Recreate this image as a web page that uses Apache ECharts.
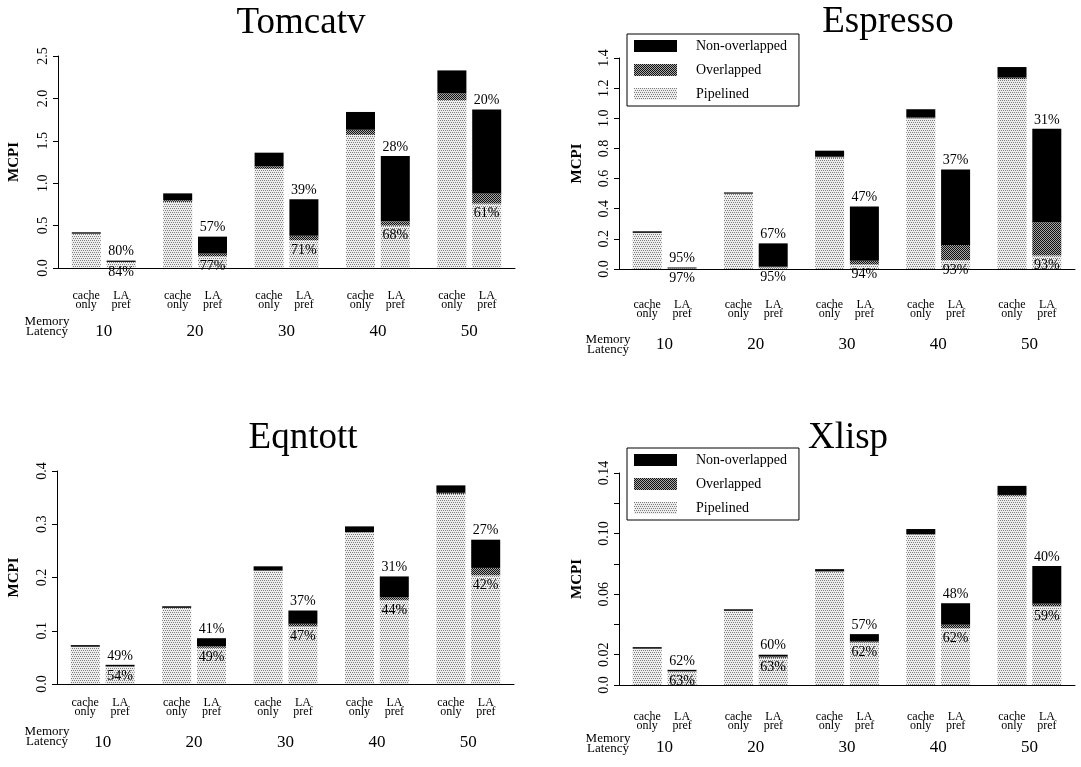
<!DOCTYPE html>
<html><head><meta charset="utf-8">
<script src="https://cdn.jsdelivr.net/npm/echarts@6/dist/echarts.min.js"></script>
<style>html,body{margin:0;padding:0;background:#fff}#c{width:1081px;height:767px}</style>
</head><body><div id="c"></div>
<script>
// ---------------- data ----------------
const latencies = ['10', '20', '30', '40', '50'];

const tomcatvCachePipe = [0.405, 0.78, 1.17, 1.57, 1.98];
const tomcatvCacheOver = [0.0, 0.02, 0.03, 0.06, 0.08];
const tomcatvCacheNon  = [0.016, 0.08, 0.16, 0.21, 0.27];
const tomcatvLAPipe    = [0.072, 0.14, 0.33, 0.50, 0.76];
const tomcatvLAOver    = [0.0, 0.03, 0.05, 0.05, 0.12];
const tomcatvLANon     = [0.015, 0.20, 0.43, 0.77, 0.99];
const tomcatvUpperPct  = ['80%', '57%', '39%', '28%', '20%'];
const tomcatvLowerPct  = ['84%', '77%', '71%', '68%', '61%'];

const espressoCachePipe = [0.24, 0.50, 0.74, 1.00, 1.26];
const espressoCacheOver = [0.0, 0.0, 0.005, 0.005, 0.01];
const espressoCacheNon  = [0.01, 0.008, 0.04, 0.055, 0.07];
const espressoLAPipe    = [0.004, 0.01, 0.03, 0.06, 0.09];
const espressoLAOver    = [0.0, 0.005, 0.025, 0.10, 0.22];
const espressoLANon     = [0.006, 0.155, 0.36, 0.50, 0.62];
const espressoUpperPct  = ['95%', '67%', '47%', '37%', '31%'];
const espressoLowerPct  = ['97%', '95%', '94%', '93%', '93%'];

const eqntottCachePipe = [0.070, 0.143, 0.213, 0.285, 0.357];
const eqntottCacheOver = [0.0, 0.0, 0.0, 0.0, 0.002];
const eqntottCacheNon  = [0.003, 0.003, 0.008, 0.011, 0.014];
const eqntottLAPipe    = [0.033, 0.068, 0.108, 0.158, 0.204];
const eqntottLAOver    = [0.0, 0.003, 0.005, 0.005, 0.014];
const eqntottLANon     = [0.003, 0.015, 0.025, 0.039, 0.053];
const eqntottUpperPct  = ['49%', '41%', '37%', '31%', '27%'];
const eqntottLowerPct  = ['54%', '49%', '47%', '44%', '42%'];

const xlispCachePipe = [0.024, 0.049, 0.075, 0.0995, 0.125];
const xlispCacheOver = [0.0, 0.0, 0.0, 0.0, 0.0005];
const xlispCacheNon  = [0.001, 0.001, 0.0015, 0.0035, 0.006];
const xlispLAPipe    = [0.009, 0.018, 0.028, 0.0375, 0.052];
const xlispLAOver    = [0.0, 0.0008, 0.0008, 0.0023, 0.0016];
const xlispLANon     = [0.001, 0.0012, 0.0048, 0.0142, 0.025];
const xlispUpperPct  = ['62%', '60%', '57%', '48%', '40%'];
const xlispLowerPct  = ['63%', '63%', '62%', '62%', '59%'];

const legendNames = ['Non-overlapped', 'Overlapped', 'Pipelined'];

// ---------------- styles ----------------
const SERIF = '"Liberation Serif", "Times New Roman", serif';

function makeTile(size, draw) {
  const c = document.createElement('canvas');
  c.width = size; c.height = size;
  draw(c.getContext('2d'));
  return c;
}
const pipeTile = makeTile(4, ctx => {
  ctx.fillStyle = '#eeeeee'; ctx.fillRect(0, 0, 4, 4);
  ctx.fillStyle = '#7c7c7c';
  [[0,0],[2,0],[1,2],[3,2]].forEach(p => ctx.fillRect(p[0], p[1], 1, 1));
});
const overTile = makeTile(2, ctx => {
  ctx.fillStyle = '#a8a8a8'; ctx.fillRect(0, 0, 2, 2);
  ctx.fillStyle = '#111111'; ctx.fillRect(0, 0, 1, 1); ctx.fillRect(1, 1, 1, 1);
});
const pipeFill = { image: pipeTile, repeat: 'repeat' };
const overFill = { image: overTile, repeat: 'repeat' };

const charts = [
  { title: 'Tomcatv', grid: { left: 58, top: 56, width: 457, height: 212 }, max: 2.5, interval: 0.5,
    fmt: v => v.toFixed(1), nameGap: 36, xMargin: 23, numLH: 45,
    titlePos: [301, 23], memPos: [47, 327],
    cp: tomcatvCachePipe, co: tomcatvCacheOver, cn: tomcatvCacheNon,
    lp: tomcatvLAPipe, lo: tomcatvLAOver, ln: tomcatvLANon, up: tomcatvUpperPct, lowp: tomcatvLowerPct },
  { title: 'Espresso', grid: { left: 619, top: 58, width: 456, height: 211 }, max: 1.4, interval: 0.2,
    fmt: v => v.toFixed(1), nameGap: 34, xMargin: 31, numLH: 54,
    titlePos: [888, 22], memPos: [608, 345],
    cp: espressoCachePipe, co: espressoCacheOver, cn: espressoCacheNon,
    lp: espressoLAPipe, lo: espressoLAOver, ln: espressoLANon, up: espressoUpperPct, lowp: espressoLowerPct },
  { title: 'Eqntott', grid: { left: 57, top: 471, width: 457, height: 213 }, max: 0.4, interval: 0.1,
    fmt: v => v.toFixed(1), nameGap: 35, xMargin: 14, numLH: 53,
    titlePos: [303, 438], memPos: [47, 737],
    cp: eqntottCachePipe, co: eqntottCacheOver, cn: eqntottCacheNon,
    lp: eqntottLAPipe, lo: eqntottLAOver, ln: eqntottLANon, up: eqntottUpperPct, lowp: eqntottLowerPct },
  { title: 'Xlisp', grid: { left: 619, top: 473, width: 456, height: 212 }, max: 0.14, interval: 0.02,
    fmt: v => { const r = Math.round(v * 100); if (r === 0) return '0.0'; return (r % 4 === 2) ? v.toFixed(2) : ''; },
    nameGap: 34, xMargin: 27, numLH: 36,
    titlePos: [848, 438], memPos: [608, 744],
    cp: xlispCachePipe, co: xlispCacheOver, cn: xlispCacheNon,
    lp: xlispLAPipe, lo: xlispLAOver, ln: xlispLANon, up: xlispUpperPct, lowp: xlispLowerPct }
];

const grids = [], xAxes = [], yAxes = [], series = [], graphics = [];
const pctFont = { fontFamily: SERIF, fontSize: 14, color: '#000' };

charts.forEach((c, i) => {
  grids.push(Object.assign({ containLabel: false }, c.grid));
  xAxes.push({
    gridIndex: i, type: 'category', data: latencies,
    axisLine: { show: true, lineStyle: { color: '#000', width: 1 } },
    axisTick: { show: false },
    axisLabel: {
      interval: 0, margin: c.xMargin, color: '#000',
      formatter: v => '{c|cache}{l|LA}\n{c|only}{l|pref}\n{n|' + v + '}',
      rich: {
        c: { width: 35, align: 'center', fontFamily: SERIF, fontSize: 12, lineHeight: 9, color: '#000' },
        l: { width: 35, align: 'center', fontFamily: SERIF, fontSize: 12, lineHeight: 9, color: '#000' },
        n: { width: 70, align: 'center', fontFamily: SERIF, fontSize: 17, lineHeight: c.numLH, color: '#000' }
      }
    }
  });
  yAxes.push({
    gridIndex: i, type: 'value', min: 0, max: c.max, interval: c.interval,
    name: 'MCPI', nameLocation: 'middle', nameGap: c.nameGap, nameRotate: 90,
    nameTextStyle: { fontFamily: SERIF, fontWeight: 'bold', fontSize: 15, color: '#000' },
    axisLine: { show: true, lineStyle: { color: '#000', width: 1 } },
    axisTick: { show: true, length: 5, lineStyle: { color: '#000' } },
    splitLine: { show: false },
    axisLabel: { rotate: 90, margin: 8, color: '#000', fontFamily: SERIF, fontSize: 14, formatter: c.fmt }
  });
  const common = { type: 'bar', xAxisIndex: i, yAxisIndex: i, barWidth: 29, barGap: '20%', animation: false };
  series.push(
    Object.assign({}, common, { name: 'Pipelined', stack: 'cache' + i, data: c.cp, itemStyle: { color: pipeFill } }),
    Object.assign({}, common, { name: 'Overlapped', stack: 'cache' + i, data: c.co, itemStyle: { color: overFill } }),
    Object.assign({}, common, { name: 'Non-overlapped', stack: 'cache' + i, data: c.cn, itemStyle: { color: '#000' } }),
    Object.assign({}, common, { name: 'Pipelined', stack: 'la' + i, data: c.lp, itemStyle: { color: pipeFill },
      label: Object.assign({ show: true, position: 'insideTop', distance: 3, formatter: p => c.lowp[p.dataIndex] }, pctFont) }),
    Object.assign({}, common, { name: 'Overlapped', stack: 'la' + i, data: c.lo, itemStyle: { color: overFill } }),
    Object.assign({}, common, { name: 'Non-overlapped', stack: 'la' + i, data: c.ln, itemStyle: { color: '#000' },
      label: Object.assign({ show: true, position: 'top', distance: 2, formatter: p => c.up[p.dataIndex] }, pctFont) })
  );
  graphics.push({
    type: 'text', x: c.titlePos[0], y: c.titlePos[1], silent: true,
    style: { text: c.title, fontFamily: SERIF, fontSize: 37, fill: '#000', textAlign: 'center', textVerticalAlign: 'middle' }
  });
  graphics.push({
    type: 'text', x: c.memPos[0], y: c.memPos[1], silent: true,
    style: { text: 'Memory\nLatency', fontFamily: SERIF, fontSize: 13, lineHeight: 10, fill: '#000', textAlign: 'center', textVerticalAlign: 'middle' }
  });
});

const legendCommon = {
  orient: 'vertical', left: 627, data: legendNames, icon: 'rect',
  itemWidth: 43, itemHeight: 12, itemGap: 10, selectedMode: false,
  backgroundColor: '#fff', borderColor: '#000', borderWidth: 1, padding: [5, 12, 5, 7],
  textStyle: { fontFamily: SERIF, fontSize: 14, color: '#000', padding: [0, 0, 0, 14] }
};

const chart = echarts.init(document.getElementById('c'), null, { renderer: 'canvas' });
chart.setOption({
  backgroundColor: '#fff',
  animation: false,
  grid: grids, xAxis: xAxes, yAxis: yAxes, series: series,
  legend: [Object.assign({}, legendCommon, { top: 34 }), Object.assign({}, legendCommon, { top: 448 })],
  graphic: graphics
});
</script></body></html>
